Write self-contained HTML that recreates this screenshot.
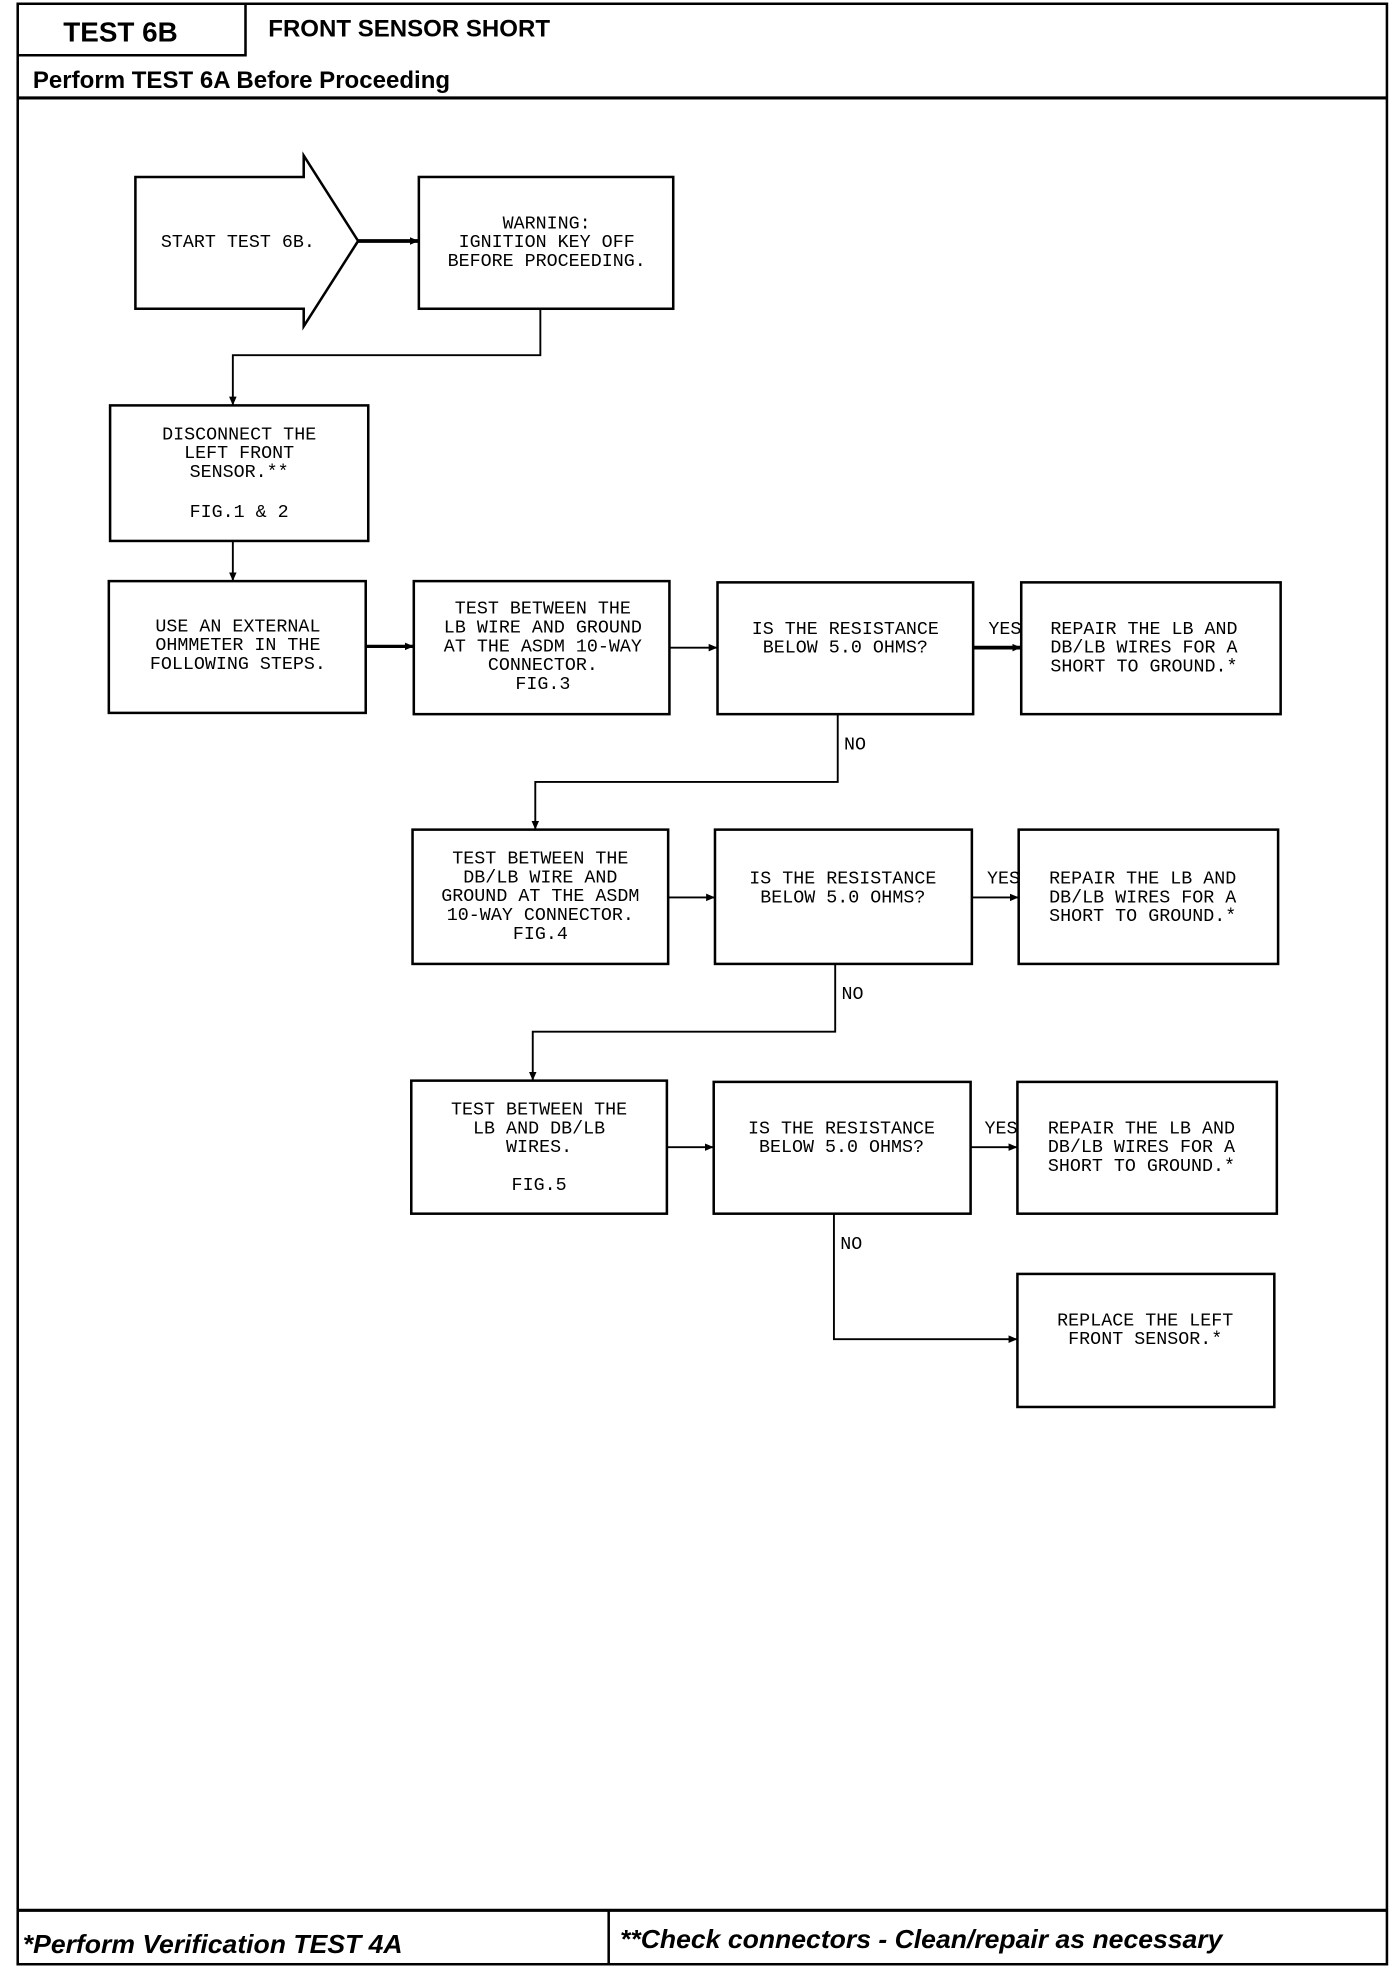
<!DOCTYPE html>
<html><head><meta charset="utf-8"><style>html,body{margin:0;padding:0;background:#fff}svg{display:block}</style></head>
<body>
<svg width="1392" height="1968" viewBox="0 0 1100 1568" preserveAspectRatio="none" xmlns="http://www.w3.org/2000/svg">
<defs><marker id="a" markerWidth="8" markerHeight="8" refX="7" refY="4" orient="auto" markerUnits="userSpaceOnUse"><path d="M0,1 L7,4 L0,7 z" fill="#000"/></marker></defs>
<g fill="none" stroke="#000" stroke-width="2">
<rect x="14" y="3" width="1082" height="1562"/>
<path d="M14,44 H194 V3"/>
<line x1="14" y1="78" x2="1096" y2="78" stroke-width="2.5"/>
<line x1="14" y1="1522" x2="1096" y2="1522" stroke-width="2.5"/>
<line x1="481" y1="1522" x2="481" y2="1565"/>
<polygon points="107,141 240,141 240,124 283,192 240,260 240,246 107,246"/>
<rect x="331" y="141" width="201" height="105"/>
<rect x="87" y="323" width="204" height="108"/>
<rect x="86" y="463" width="203" height="105"/>
<rect x="327" y="463" width="202" height="106"/>
<rect x="567" y="464" width="202" height="105"/>
<rect x="807" y="464" width="205" height="105"/>
<rect x="326" y="661" width="202" height="107"/>
<rect x="565" y="661" width="203" height="107"/>
<rect x="805" y="661" width="205" height="107"/>
<rect x="325" y="861" width="202" height="106"/>
<rect x="564" y="862" width="203" height="105"/>
<rect x="804" y="862" width="205" height="105"/>
<rect x="804" y="1015" width="203" height="106"/>
<g stroke-width="1.5" marker-end="url(#a)">
<line x1="283" y1="192" x2="331" y2="192" stroke-width="3"/>
<path d="M427,246 V283 H184 V323"/>
<line x1="184" y1="431" x2="184" y2="463"/>
<line x1="289" y1="515" x2="327" y2="515" stroke-width="2.5"/>
<line x1="529" y1="516" x2="567" y2="516"/>
<line x1="769" y1="516" x2="807" y2="516" stroke-width="3"/>
<path d="M662,569 V623 H423 V661"/>
<line x1="528" y1="715" x2="565" y2="715"/>
<line x1="768" y1="715" x2="805" y2="715"/>
<path d="M660,768 V822 H421 V861"/>
<line x1="527" y1="914" x2="564" y2="914"/>
<line x1="767" y1="914" x2="804" y2="914"/>
<path d="M659,967 V1067 H804"/>
</g>
</g>
<g font-family="Liberation Sans, sans-serif" font-weight="bold" fill="#000">
<text x="50" y="33" font-size="22">TEST 6B</text>
<text x="212" y="29" font-size="19">FRONT SENSOR SHORT</text>
<text x="26" y="70" font-size="19">Perform TEST 6A Before Proceeding</text>
<text x="18" y="1556" font-size="21" font-style="italic">*Perform Verification  TEST 4A</text>
<text x="490" y="1552" font-size="21" font-style="italic">**Check connectors - Clean/repair as necessary</text>
</g>
<g font-family="Liberation Mono, monospace" font-size="14.5" fill="#000" text-anchor="middle">
<text x="188" y="197">START TEST 6B.</text>
<text x="432" y="182">WARNING:</text><text x="432" y="197">IGNITION KEY OFF</text><text x="432" y="212">BEFORE PROCEEDING.</text>
<text x="189" y="350">DISCONNECT THE</text><text x="189" y="365">LEFT FRONT</text><text x="189" y="380">SENSOR.**</text><text x="189" y="412">FIG.1 &amp; 2</text>
<text x="188" y="503">USE AN EXTERNAL</text><text x="188" y="518">OHMMETER IN THE</text><text x="188" y="533">FOLLOWING STEPS.</text>
<text x="429" y="489">TEST BETWEEN THE</text><text x="429" y="504">LB WIRE AND GROUND</text><text x="429" y="519">AT THE ASDM 10-WAY</text><text x="429" y="534">CONNECTOR.</text><text x="429" y="549">FIG.3</text>
<text x="668" y="505">IS THE RESISTANCE</text><text x="668" y="520">BELOW 5.0 OHMS?</text>
<text x="904" y="505">REPAIR THE LB AND</text><text x="904" y="520">DB/LB WIRES FOR A</text><text x="904" y="535">SHORT TO GROUND.*</text>
<text x="427" y="688">TEST BETWEEN THE</text><text x="427" y="703">DB/LB WIRE AND</text><text x="427" y="718">GROUND AT THE ASDM</text><text x="427" y="733">10-WAY CONNECTOR.</text><text x="427" y="748">FIG.4</text>
<text x="666" y="704">IS THE RESISTANCE</text><text x="666" y="719">BELOW 5.0 OHMS?</text>
<text x="903" y="704">REPAIR THE LB AND</text><text x="903" y="719">DB/LB WIRES FOR A</text><text x="903" y="734">SHORT TO GROUND.*</text>
<text x="426" y="888">TEST BETWEEN THE</text><text x="426" y="903">LB AND DB/LB</text><text x="426" y="918">WIRES.</text><text x="426" y="948">FIG.5</text>
<text x="665" y="903">IS THE RESISTANCE</text><text x="665" y="918">BELOW 5.0 OHMS?</text>
<text x="902" y="903">REPAIR THE LB AND</text><text x="902" y="918">DB/LB WIRES FOR A</text><text x="902" y="933">SHORT TO GROUND.*</text>
<text x="905" y="1056">REPLACE THE LEFT</text><text x="905" y="1071">FRONT SENSOR.*</text>
</g>
<g font-family="Liberation Mono, monospace" font-size="14.5" fill="#000">
<text x="781" y="505">YES</text><text x="780" y="704">YES</text><text x="778" y="903">YES</text>
<text x="667" y="597">NO</text><text x="665" y="796">NO</text><text x="664" y="995">NO</text>
</g>
</svg>
</body></html>
